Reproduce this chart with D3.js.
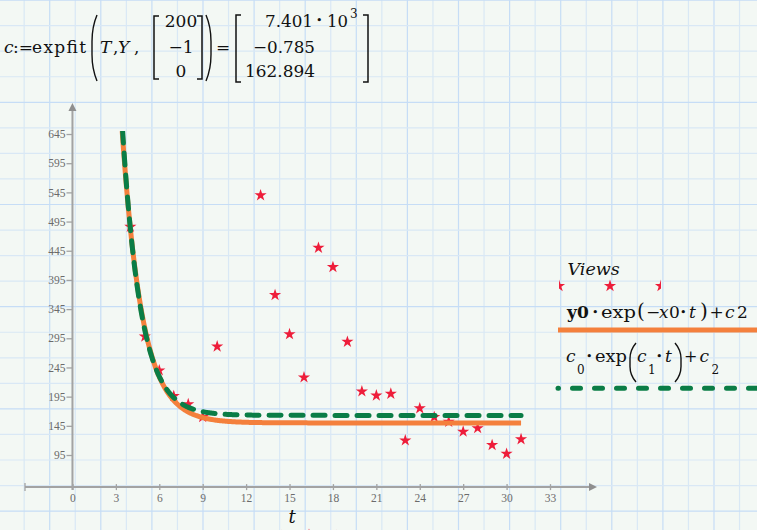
<!DOCTYPE html>
<html>
<head>
<meta charset="utf-8">
<script src="https://cdn.jsdelivr.net/npm/d3@7"></script>
<style>
  html, body { margin: 0; padding: 0; background: #f3f8f4; }
  svg { display: block; }
</style>
</head>
<body>
<script>
// ---- data ----
const T = [4, 5, 6, 7, 8, 9, 10, 13, 14, 15, 16, 17, 18, 19, 20, 21, 22, 23, 24, 25, 26, 27, 28, 29, 30, 31];
const Y = [486, 298, 240, 196, 182, 160, 281, 540, 369, 302, 228, 450, 417, 289, 204, 197, 200, 120, 175, 160, 152, 135, 141, 112, 97, 122];
const xTicks = [0, 3, 6, 9, 12, 15, 18, 21, 24, 27, 30, 33];
const yTicks = [95, 145, 195, 245, 295, 345, 395, 445, 495, 545, 595, 645];
const fitOrange = [5940, 0.72, 150];          // y0, x0, c2 : y0*exp(-x0*t)+c2
const fitGreen = [7401, -0.785, 162.894];     // c0, c1, c2 : c0*exp(c1*t)+c2
const guess = ["200", "\u22121", "0"];
const result = ["7.401", "\u22120.785", "162.894"];

const W = 757, H = 530;
const ORANGE = "#f4803c", GREEN = "#0a7d46", RED = "#ee1d3a";
const TXT = "#111";

// pick a serif face that is really installed
function measure(font) {
  const c = document.createElement("canvas").getContext("2d");
  c.font = font;
  return c.measureText("162.894 expfit Views").width;
}
const hasDV = Math.abs(measure("40px 'DejaVu Serif', monospace") - measure("40px monospace")) > 0.5;
const SERIF = hasDV ? "'DejaVu Serif', 'Liberation Serif', serif" : "'Liberation Serif', serif";
const FS = hasDV ? 17 : 20.5;      // main math size
const FSS = hasDV ? 12 : 14;       // sub/superscript size

const svg = d3.select("body").append("svg").attr("width", W).attr("height", H);
svg.append("rect").attr("width", W).attr("height", H).attr("fill", "#f3f8f4");

// ---- worksheet grid ----
const gstep = 25.55, gx0 = -1.4, gy0 = 0.1;
const grid = svg.append("g");
for (let k = 0; gx0 + k * gstep < W + 1; k++) {
  const x = gx0 + k * gstep;
  grid.append("line").attr("x1", x).attr("x2", x).attr("y1", 0).attr("y2", H)
    .attr("stroke", k % 2 === 0 ? "#c6ddf6" : "#d9e8f5").attr("stroke-width", 1.2);
}
for (let k = 0; gy0 + k * gstep < H + 1; k++) {
  const y = gy0 + k * gstep;
  grid.append("line").attr("x1", 0).attr("x2", W).attr("y1", y).attr("y2", y)
    .attr("stroke", k % 4 === 0 ? "#c6ddf6" : "#d9e8f5").attr("stroke-width", 1.2);
}

// ---- scales ----
const xs = d3.scaleLinear().domain([-3.28, 36.2]).range([25, 596.3]);
const ys = d3.scaleLinear().domain([40, 650]).range([487.1, 131.1]);
const x0 = xs(0), yAxisY = ys(40);

// ---- axes ----
const AX = "#a3a3a3";
const TICKFONT = "'Liberation Serif', serif";
const xAxis = svg.append("g").attr("transform", `translate(0,${yAxisY})`)
  .call(d3.axisBottom(xs).tickValues(xTicks).tickSizeInner(3).tickSizeOuter(0).tickPadding(4));
xAxis.select(".domain").remove();
xAxis.selectAll(".tick line").attr("y1", -3).attr("y2", 3).attr("stroke", AX).attr("stroke-width", 1.3);
xAxis.selectAll(".tick text").attr("font-family", TICKFONT).attr("font-size", 11.5).attr("fill", "#6b6b6b");

const yAxis = svg.append("g").attr("transform", `translate(${x0},0)`)
  .call(d3.axisLeft(ys).tickValues(yTicks).tickSizeInner(6).tickSizeOuter(0).tickPadding(1));
yAxis.select(".domain").remove();
yAxis.selectAll(".tick line").attr("stroke", AX).attr("stroke-width", 1.3);
yAxis.selectAll(".tick text").attr("font-family", TICKFONT).attr("font-size", 11.5).attr("fill", "#6b6b6b");

// axis lines with arrows
svg.append("line").attr("x1", xs.range()[0]).attr("x2", 591).attr("y1", yAxisY).attr("y2", yAxisY)
  .attr("stroke", AX).attr("stroke-width", 2);
svg.append("path").attr("d", `M597,${yAxisY} L589,${yAxisY - 4} L589,${yAxisY + 4} Z`).attr("fill", "#8f8f8f");
svg.append("line").attr("x1", xs.range()[0]).attr("x2", xs.range()[0]).attr("y1", yAxisY - 4).attr("y2", yAxisY + 4)
  .attr("stroke", AX).attr("stroke-width", 1.3);
svg.append("line").attr("x1", x0).attr("x2", x0).attr("y1", yAxisY + 3).attr("y2", 110)
  .attr("stroke", AX).attr("stroke-width", 2);
svg.append("path").attr("d", `M${x0},103 L${x0 - 4},111 L${x0 + 4},111 Z`).attr("fill", "#8f8f8f");

// ---- plot content ----
svg.append("clipPath").attr("id", "plotclip").append("rect")
  .attr("x", 20).attr("y", ys(650)).attr("width", 580).attr("height", yAxisY - ys(650) + 5);
const plot = svg.append("g").attr("clip-path", "url(#plotclip)");

const star = d3.symbol().type(d3.symbolStar).size(46);
plot.selectAll("path.star").data(T.map((t, i) => [t, Y[i]])).join("path")
  .attr("class", "star").attr("d", star)
  .attr("transform", d => `translate(${xs(d[0])},${ys(d[1])})`).attr("fill", RED);

function curve(f, t0, t1) {
  const pts = [];
  const n = 600;
  for (let i = 0; i <= n; i++) {
    const t = t0 + (t1 - t0) * i / n;
    pts.push([t, f(t)]);
  }
  return pts;
}
const fO = t => fitOrange[0] * Math.exp(-fitOrange[1] * t) + fitOrange[2];
const fG = t => fitGreen[0] * Math.exp(fitGreen[1] * t) + fitGreen[2];
const tStartO = Math.log((650 - fitOrange[2]) / fitOrange[0]) / (-fitOrange[1]);
const tStartG = Math.log((650 - fitGreen[2]) / fitGreen[0]) / fitGreen[1];
const line = d3.line().x(d => xs(d[0])).y(d => ys(d[1]));

plot.append("path").attr("d", line(curve(fO, tStartO, 31)))
  .attr("fill", "none").attr("stroke", ORANGE).attr("stroke-width", 5);
plot.append("path").attr("d", line(curve(fG, tStartG, 31)))
  .attr("fill", "none").attr("stroke", GREEN).attr("stroke-width", 5)
  .attr("stroke-dasharray", "12,10").attr("stroke-linecap", "round");

// axis title and clipped marker row below it
svg.append("text").attr("x", 292).attr("y", 523).attr("text-anchor", "middle")
  .attr("font-family", SERIF).attr("font-style", "italic").attr("font-size", hasDV ? 18 : 21).attr("fill", TXT).text("t");
svg.append("clipPath").attr("id", "botclip").append("rect").attr("x", 281).attr("y", 0).attr("width", 56).attr("height", H);
const bot = svg.append("g").attr("clip-path", "url(#botclip)");
[280.7, 309, 337.3].forEach(x => bot.append("path").attr("d", star).attr("transform", `translate(${x},535)`).attr("fill", RED));

// ---- header expression ----
const hdr = svg.append("g").attr("font-family", SERIF).attr("font-size", FS).attr("fill", TXT);
function txt(g, s, x, y, opts = {}) {
  const e = g.append("text").attr("x", x).attr("y", y).text(s);
  if (opts.italic) e.attr("font-style", "italic");
  if (opts.bold) e.attr("font-weight", "bold");
  if (opts.size) e.attr("font-size", opts.size);
  if (opts.anchor) e.attr("text-anchor", opts.anchor);
  return e;
}
function lparen(g, x, y0, y1, w = 5) {
  const h = y1 - y0;
  g.append("path").attr("d", `M${x + w},${y0} Q${x},${y0 + h * 0.18} ${x},${y0 + h * 0.4} L${x},${y1 - h * 0.4} Q${x},${y1 - h * 0.18} ${x + w},${y1}`)
    .attr("fill", "none").attr("stroke", TXT).attr("stroke-width", 1.4);
}
function rparen(g, x, y0, y1, w = 5) {
  const h = y1 - y0;
  g.append("path").attr("d", `M${x - w},${y0} Q${x},${y0 + h * 0.18} ${x},${y0 + h * 0.4} L${x},${y1 - h * 0.4} Q${x},${y1 - h * 0.18} ${x - w},${y1}`)
    .attr("fill", "none").attr("stroke", TXT).attr("stroke-width", 1.4);
}
function lbrack(g, x, y0, y1) {
  g.append("path").attr("d", `M${x + 5},${y0} H${x} V${y1} H${x + 5}`).attr("fill", "none").attr("stroke", TXT).attr("stroke-width", 1.5);
}
function rbrack(g, x, y0, y1) {
  g.append("path").attr("d", `M${x - 5},${y0} H${x} V${y1} H${x - 5}`).attr("fill", "none").attr("stroke", TXT).attr("stroke-width", 1.5);
}
txt(hdr, "c", 4, 53, { italic: true });
txt(hdr, ":=", 13, 53);
txt(hdr, "expfit", 32, 53).attr("textLength", 54).attr("lengthAdjust", "spacing");
lparen(hdr, 92, 15, 81, 5);
txt(hdr, "T", 100, 53, { italic: true });
txt(hdr, ",", 113, 53);
txt(hdr, "Y", 118, 53, { italic: true });
txt(hdr, ",", 134, 53);
lbrack(hdr, 154, 16, 79);
const rowsY = [26.5, 53, 77];
guess.forEach((s, i) => txt(hdr, s, 181, rowsY[i], { anchor: "middle" }));
rbrack(hdr, 202, 16, 79);
rparen(hdr, 211, 15, 81, 5);
txt(hdr, "=", 216, 53);
lbrack(hdr, 236, 15, 82);
const resStart = [265, 253, 245];
const resEnd = [313, 315, 315];
result.forEach((s, i) => txt(hdr, s, resStart[i], rowsY[i]).attr("textLength", resEnd[i] - resStart[i]).attr("lengthAdjust", "spacingAndGlyphs"));
txt(hdr, "\u2022", 316, 24, { size: 11 });
txt(hdr, "10", 327, 26.5).attr("textLength", 21).attr("lengthAdjust", "spacingAndGlyphs");
txt(hdr, "3", 350, 17.5, { size: FSS });
rbrack(hdr, 368, 15, 82);

// ---- legend ----
const leg = svg.append("g").attr("font-family", SERIF).attr("font-size", FS).attr("fill", TXT);
txt(leg, "Views", 567.5, 275, { italic: true, size: hasDV ? 17.5 : 21 });
svg.append("clipPath").attr("id", "legclip").append("rect").attr("x", 559).attr("y", 0).attr("width", 102).attr("height", H);
const legStars = svg.append("g").attr("clip-path", "url(#legclip)");
[559, 610, 661].forEach(x => legStars.append("path").attr("d", star).attr("transform", `translate(${x},286)`).attr("fill", RED));

// row 1: y0·exp(−x0·t)+c2
const r1 = 318;
txt(leg, "y0", 567, r1, { bold: true });
txt(leg, "\u2022", 592, r1 - 2, { size: 11 });
txt(leg, "exp", 601, r1).attr("textLength", 35).attr("lengthAdjust", "spacingAndGlyphs");
txt(leg, "(", 637, r1, { size: FS + 3 });
txt(leg, "\u2212", 646, r1);
txt(leg, "x", 659, r1, { italic: true });
txt(leg, "0", 669, r1);
txt(leg, "\u2022", 680, r1 - 2, { size: 11 });
txt(leg, "t", 689, r1, { italic: true });
txt(leg, ")", 700, r1, { size: FS + 3 });
txt(leg, "+", 709.5, r1);
txt(leg, "c", 725, r1, { italic: true });
txt(leg, "2", 737, r1);
svg.append("line").attr("x1", 558).attr("x2", W).attr("y1", 330).attr("y2", 330)
  .attr("stroke", ORANGE).attr("stroke-width", 5);

// row 2: c0·exp(c1·t)+c2
const r2 = 361.5, s2 = 373.5;
txt(leg, "c", 566, r2, { italic: true });
txt(leg, "0", 577, s2, { size: FSS });
txt(leg, "\u2022", 586, r2 - 2, { size: 11 });
txt(leg, "exp", 595, r2).attr("textLength", 32).attr("lengthAdjust", "spacingAndGlyphs");
lparen(leg, 630, 343, 382, 6);
txt(leg, "c", 637, r2, { italic: true });
txt(leg, "1", 648, s2, { size: FSS });
txt(leg, "\u2022", 656, r2 - 2, { size: 11 });
txt(leg, "t", 665, r2, { italic: true });
rparen(leg, 681, 343, 382, 6);
txt(leg, "+", 684, r2, { size: 16 });
txt(leg, "c", 699.5, r2, { italic: true });
txt(leg, "2", 711.5, s2, { size: FSS });
svg.append("line").attr("x1", 558).attr("x2", W).attr("y1", 388.3).attr("y2", 388.3)
  .attr("stroke", GREEN).attr("stroke-width", 5).attr("stroke-dasharray", "8,14")
  .attr("stroke-dashoffset", 7.5).attr("stroke-linecap", "round");
</script>
</body>
</html>
